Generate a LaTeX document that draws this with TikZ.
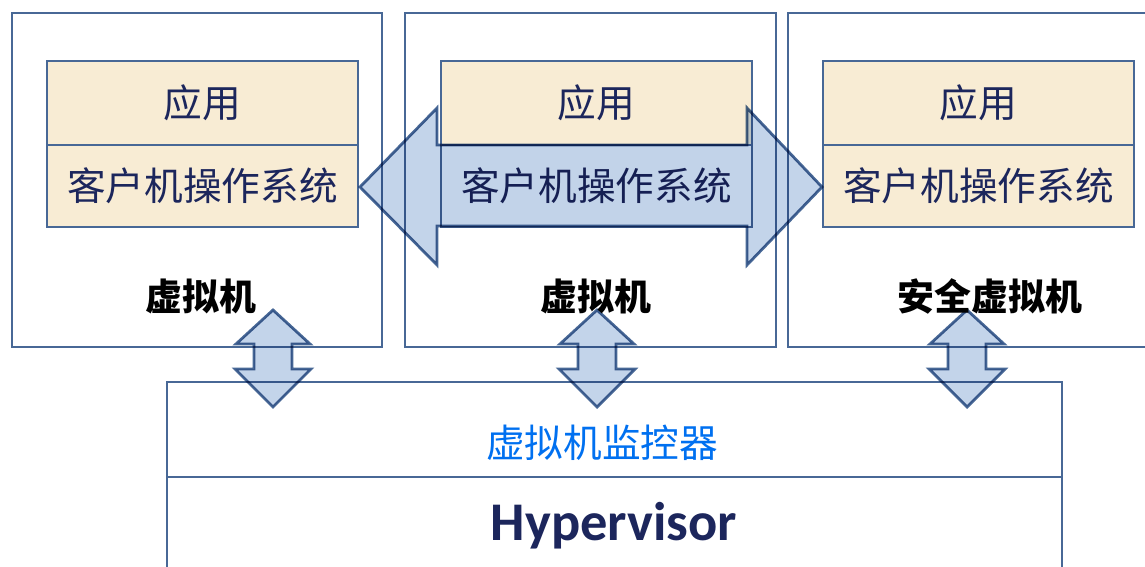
\documentclass[tikz,border=0pt]{standalone}
\usepackage{fontspec}
\setmainfont{Carlito}
\newfontfamily\cjk{Noto Sans CJK SC}
\usetikzlibrary{positioning, calc}
\definecolor{boxline}{RGB}{72,104,150}
\definecolor{arrowfill}{RGB}{184,204,230}
\definecolor{beige}{RGB}{248,236,212}
\definecolor{navy}{RGB}{28,38,92}
\definecolor{monblue}{RGB}{0,112,240}

\begin{document}
\begin{tikzpicture}[
	box/.style={draw=boxline, line width=1.6pt},
	layer/.style={box, fill=beige},
	blockarrow/.style={draw=boxline, line width=1.6pt, fill=arrowfill, blend mode=multiply, fill opacity=0.85, line join=miter},
	ostext/.style={text=navy, font=\cjk\fontsize{22}{26}\selectfont},
	vmtext/.style={text=black, font=\cjk\bfseries\fontsize{21}{25}\selectfont}
	]
		
		%Page
		\useasboundingbox (0,0) rectangle (22.9,-11.32);
		\clip (0,0) rectangle (22.9,-11.32);
		
		%Virtual machines
		\draw[box] (0.24,-0.26) rectangle (7.64,-6.94);
		\draw[box] (8.10,-0.26) rectangle (15.52,-6.94);
		\draw[box] (15.76,-0.26) rectangle (23.2,-6.94);
		
		%Application and guest OS layers
		\foreach \x/\n/\osfill in {0.94/1/beige, 8.82/2/white, 16.46/3/beige}{
			\draw[layer] (\x,-1.22) rectangle ++(6.22,-1.68);
			\draw[layer, fill=\osfill] (\x,-2.90) rectangle ++(6.22,-1.64);
			\node[ostext] (app\n) at (\x+3.11,-2.06) {应用};
			\node[ostext] (os\n) at (\x+3.11,-3.72) {客户机操作系统};
		}
		
		%Labels
		\node[vmtext] (vm1) at (4.02,-5.92) {虚拟机};
		\node[vmtext] (vm2) at (11.92,-5.92) {虚拟机};
		\node[vmtext] (vm3) at (19.80,-5.92) {安全虚拟机};
		
		%Hypervisor
		\draw[box] (3.34,-11.6) -- (3.34,-7.64) -- (21.24,-7.64) -- (21.24,-11.6);
		\draw[box] (3.34,-9.54) -- (21.24,-9.54);
		\node[text=monblue, font=\cjk\fontsize{22}{26}\selectfont] (vmm) at (12.04,-8.86) {虚拟机监控器};
		\node[text=navy, font=\bfseries\fontsize{31}{36}\selectfont] (hyp) at (12.28,-10.52) {Hypervisor};
		
		%Migration arrow
		\draw[blockarrow] (7.20,-3.74) -- (8.74,-2.16) -- (8.74,-2.90) -- (14.94,-2.90)
		-- (14.94,-2.16) -- (16.44,-3.74) -- (14.94,-5.30) -- (14.94,-4.52)
		-- (8.74,-4.52) -- (8.74,-5.30) -- cycle;
		
		%Vertical arrows
		\foreach \cx in {5.46, 11.94, 19.34}{
			\draw[blockarrow] (\cx,-6.20) -- ++(0.74,-0.68) -- ++(-0.36,0) -- ++(0,-0.50)
			-- ++(0.38,0) -- ++(-0.76,-0.76) -- ++(-0.76,0.76) -- ++(0.38,0)
			-- ++(0,0.50) -- ++(-0.36,0) -- cycle;
		}
		
\end{tikzpicture}
\end{document}
